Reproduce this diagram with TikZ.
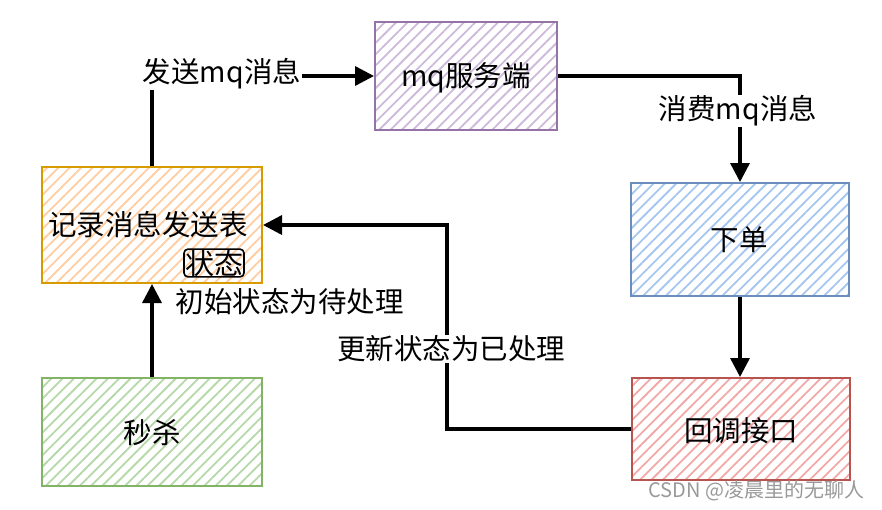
\documentclass[tikz,border=0pt]{standalone}
\usepackage{fontspec}
\setmainfont{Noto Sans CJK SC}
\usetikzlibrary{patterns.meta,arrows.meta}
\definecolor{orS}{RGB}{215,155,0}
\definecolor{orF}{RGB}{255,205,160}
\definecolor{puS}{RGB}{150,115,166}
\definecolor{puF}{RGB}{205,186,218}
\definecolor{blS}{RGB}{108,142,191}
\definecolor{blF}{RGB}{165,198,240}
\definecolor{reS}{RGB}{184,84,80}
\definecolor{reF}{RGB}{242,168,166}
\definecolor{grS}{RGB}{130,179,102}
\definecolor{grF}{RGB}{180,216,168}
\begin{document}
\begin{tikzpicture}[x=1pt,y=-1pt,
  box/.style={draw=#1, line width=2pt, inner sep=0pt},
  hatch/.style={pattern={Lines[angle=45,distance=8pt,line width=1.8pt]}, pattern color=#1},
  conn/.style={line width=3.4pt, -{Triangle[length=19pt,width=19pt]}},
  lbl/.style={fill=white, inner sep=1pt, font=\fontsize{28.5}{31}\selectfont},
  txt/.style={font=\fontsize{28.5}{31}\selectfont},
]
\useasboundingbox (0,0) rectangle (882,509);
% record box
\fill[hatch=orF] (42,167) rectangle (262,283);
\node[box=orS, minimum width=220pt, minimum height=116pt] (rec) at (152,225) {};
\node[txt] (rect) at (148,225) {记录消息发送表};
\node[draw=black, line width=1.6pt, rounded corners=4pt, inner xsep=1pt, inner ysep=0.5pt, font=\fontsize{29}{30}\selectfont] (st) at (214,263) {状态};
% mq box
\fill[hatch=puF] (375,22) rectangle (557,130);
\node[box=puS, minimum width=182pt, minimum height=108pt] (mq) at (466,76) {};
\node[txt] (mqt) at (466,78) {mq服务端};
% order box
\fill[hatch=blF] (630,183) rectangle (848,296);
\node[box=blS, minimum width=218pt, minimum height=113pt] (ord) at (740,239.5) {};
\node[txt] (ordt) at (739,240) {下单};
% callback box
\fill[hatch=reF] (632,378) rectangle (850,480);
\node[box=reS, minimum width=218pt, minimum height=102pt] (cb) at (741,429) {};
\node[txt] (cbt) at (741,431) {回调接口};
% seckill box
\fill[hatch=grF] (42,378) rectangle (262,486);
\node[box=grS, minimum width=220pt, minimum height=108pt] (sk) at (152,432) {};
\node[txt] (skt) at (152,433) {秒杀};
% connectors
\draw[conn] (rec.north) |- (mq.west);
\node[lbl] (l1) at (222,74) {发送mq消息};
\draw[conn] (mq.east) -| (ord.north);
\node[lbl] (l2) at (738,111) {消费mq消息};
\draw[conn] (ord.south) -- (ord.south |- cb.north);
\coordinate (bend) at (447,429);
\draw[conn] (cb.west) -- (bend) |- (rec.east);
\node[lbl] (l3) at (451,349) {更新状态为已处理};
\draw[conn] (sk.north) -- (rec.south);
\node[txt, anchor=west] (init) at (172,302) {初始状态为待处理};
\node[font=\fontsize{20}{22}\selectfont, text=black!40, anchor=east] (wm) at (868,491) {CSDN @凌晨里的无聊人};
\end{tikzpicture}
\end{document}
